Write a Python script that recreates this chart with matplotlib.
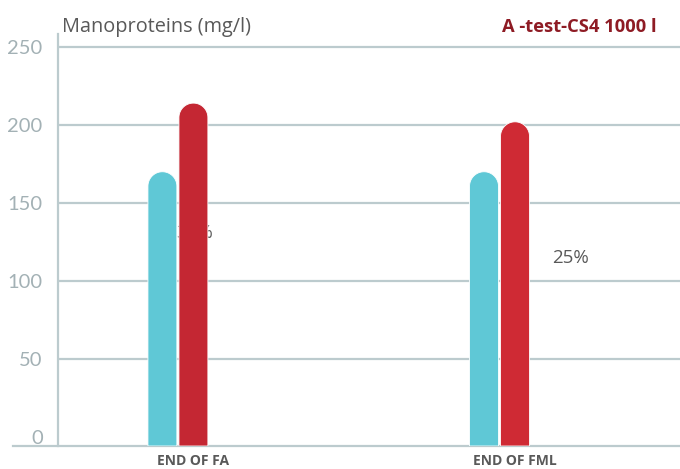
import numpy as np
import matplotlib
matplotlib.use("Agg")
import matplotlib.pyplot as plt
from matplotlib.path import Path
from matplotlib.patches import PathPatch

categories = ["END OF FA", "END OF FML"]
series_a = [170, 170]          # cyan series
series_b = [214, 202]          # red series
pct_labels = ["30%", "25%"]
y_ticks = [0, 50, 100, 150, 200, 250]

title_left = "Manoproteins (mg/l)"
title_right = "A -test-CS4 1000 l"

cyan = "#5FC8D6"
reds = ["#C42733", "#CF2A34"]
grid_c = "#BCCBCE"
tick_c = "#A3B1B5"
text_c = "#595959"

W, H = 680, 469
fig = plt.figure(figsize=(W / 100, H / 100), dpi=100)
ax = fig.add_axes([13 / W, (H - 446) / H, 667 / W, 412 / H])

ymin, ymax = -5.8, 258.3
xmin, xmax = -0.561, 1.513
ax.set_xlim(xmin, xmax)
ax.set_ylim(ymin, ymax)
spine_x = -0.421

bar_w = 0.090
offset = 0.0964


def rounded_bar(ax, xc, top, bottom, w, color):
    p0 = ax.transData.transform((0, 0))
    px = ax.transData.transform((1, 1)) - p0
    r_x = w / 2
    r_y = (w * px[0] / 2) / px[1]
    x0, x1 = xc - w / 2, xc + w / 2
    theta = np.linspace(np.pi, 0, 40)
    arc = np.column_stack([xc + r_x * np.cos(theta), top - r_y + r_y * np.sin(theta)])
    verts = np.vstack([[x0, bottom], [x0, top - r_y], arc, [x1, top - r_y], [x1, bottom], [x0, bottom]])
    codes = [Path.MOVETO] + [Path.LINETO] * (len(verts) - 2) + [Path.CLOSEPOLY]
    ax.add_patch(PathPatch(Path(verts, codes), facecolor=color, edgecolor="white",
                           linewidth=0.6, zorder=3))


x = np.arange(len(categories))
for i in range(len(categories)):
    rounded_bar(ax, x[i] - offset, series_a[i], ymin, bar_w, cyan)
    rounded_bar(ax, x[i], series_b[i], ymin, bar_w, reds[i])

ax.hlines([t for t in y_ticks if t > 0], spine_x, xmax, colors=grid_c, linewidth=1.6, zorder=1)

for s in ["top", "right"]:
    ax.spines[s].set_visible(False)
ax.spines["left"].set_position(("data", spine_x))
ax.spines["left"].set_color(grid_c)
ax.spines["left"].set_linewidth(1.6)
ax.spines["bottom"].set_color(grid_c)
ax.spines["bottom"].set_linewidth(1.6)

ax.set_yticks(y_ticks)
ax.set_yticklabels([str(t) for t in y_ticks], fontsize=14.5, color=tick_c, family="Lato")
ax.tick_params(axis="y", length=0, pad=11)

ax.set_xticks(x)
ax.set_xticklabels(categories, fontsize=10, fontweight="bold", color=text_c,
                   family="Open Sans", fontstretch="condensed")
ax.tick_params(axis="x", length=0, pad=6)

ax.text(0.003, 131, pct_labels[0], ha="center", va="center", fontsize=13.5, color=text_c,
        family="Open Sans", zorder=2)
ax.text(1.174, 115, pct_labels[1], ha="center", va="center", fontsize=13.5, color=text_c,
        family="Open Sans", zorder=2)

fig.text(62 / W, 1 - 27 / H, title_left, ha="left", va="center", fontsize=14.3,
         color=text_c, family="Open Sans")
fig.text(657 / W, 1 - 27 / H, title_right, ha="right", va="center", fontsize=13.2,
         color="#8E1B24", fontweight="bold", family="Open Sans")

fig.savefig("out.png", dpi=100)
